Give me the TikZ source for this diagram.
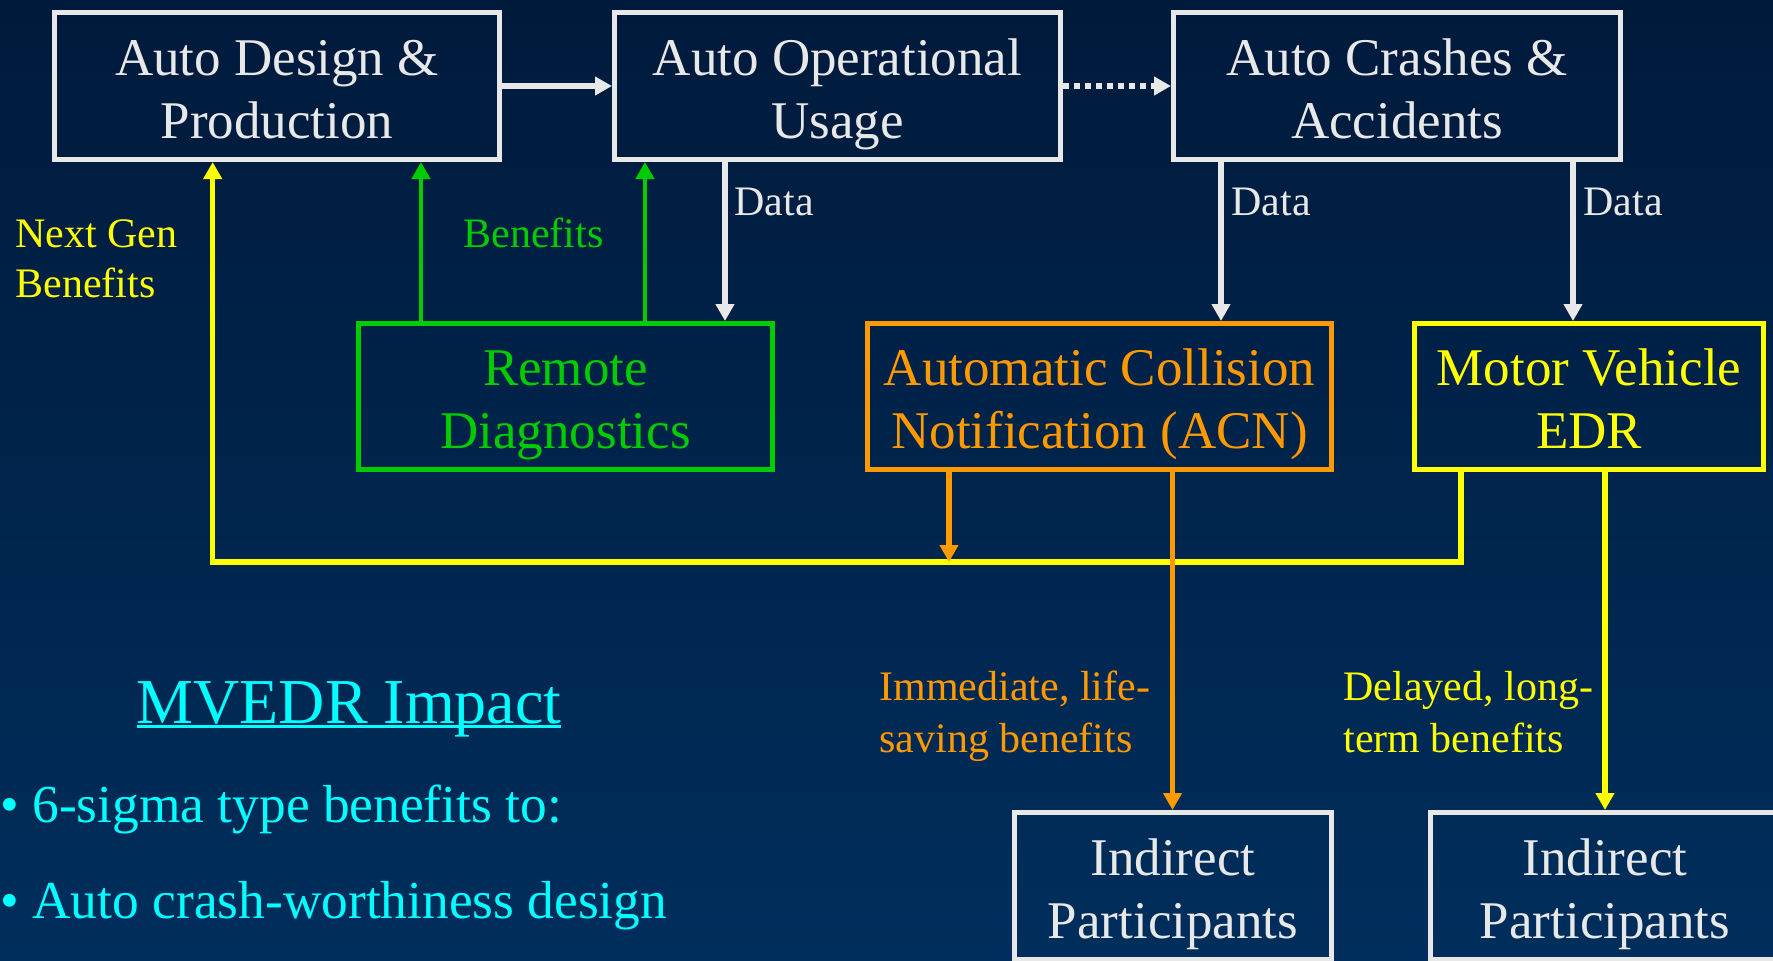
\documentclass[tikz,border=0pt]{standalone}
\usepackage{fontspec}
\setmainfont{Liberation Serif}
\usetikzlibrary{arrows.meta}

\definecolor{bgtop}{HTML}{001A3B}
\definecolor{bgbot}{HTML}{002E5C}
\definecolor{paper}{HTML}{E8E8E8}
\definecolor{grn}{HTML}{00CC00}
\definecolor{org}{HTML}{FF9900}
\definecolor{ylw}{HTML}{FFFF00}
\definecolor{cyn}{HTML}{00FFFF}

% two centred lines with a fixed cap-height strut, so every box sets its text alike
\newcommand\twoline[2]{\rule{0pt}{20.5pt}\smash{#1}\\\smash{#2}}
% two left-aligned lines whose top edge is the first baseline
\newcommand\lbltwo[2]{\smash{#1}\\\smash{#2}}
% underlined heading
\newcommand\ulinetext[1]{\setbox0\hbox{#1}\rlap{\rule[-2.6pt]{\wd0}{1.6pt}}\box0}

\begin{document}
\begin{tikzpicture}[x=0.5pt, y=-0.5pt,
  box/.style={draw, line width=2.5pt, minimum height=73.5pt, inner sep=0pt,
    align=center, font=\fontsize{26.5pt}{31.5pt}\selectfont},
  lbl/.style={inner sep=0pt, font=\fontsize{21pt}{25pt}\selectfont},
  arr/.style={line width=2.6pt, -{Triangle[length=8.5pt,width=9pt]}},
  garr/.style={line width=2.2pt, -{Triangle[length=8.5pt,width=9pt]}}]

% backdrop
\fill[top color=bgtop, bottom color=bgbot] (0,0) rectangle (1773,960);
\useasboundingbox (0,0) rectangle (1773,960);

% life-cycle boxes
\node[box, draw=paper, text=paper, minimum width=222.5pt] (design) at (277,86)
  {\twoline{Auto Design \&}{Production}};
\node[box, draw=paper, text=paper, minimum width=223pt] (usage) at (837.5,86)
  {\twoline{Auto Operational}{Usage}};
\node[box, draw=paper, text=paper, minimum width=223.5pt] (crash) at (1397,86)
  {\twoline{Auto Crashes \&}{Accidents}};

% data systems
\node[box, draw=grn, text=grn, minimum width=207pt, minimum height=73pt] (remote) at (565.5,396.5)
  {\twoline{Remote}{Diagnostics}};
\node[box, draw=org, text=org, minimum width=232pt, minimum height=73pt] (acn) at (1099.5,396.5)
  {\twoline{Automatic Collision}{Notification (ACN)}};
\node[box, draw=ylw, text=ylw, minimum width=174.5pt, minimum height=73pt] (edr) at (1589,396.5)
  {\twoline{Motor Vehicle}{EDR}};

% beneficiaries
\node[box, draw=paper, text=paper, minimum width=158.5pt] (partA) at (1173,886)
  {\twoline{Indirect}{Participants}};
\node[box, draw=paper, text=paper, minimum width=174.5pt] (partB) at (1605,886)
  {\twoline{Indirect}{Participants}};

% connector columns
\coordinate (xu) at (725,0);
\coordinate (xc1) at (1221,0);
\coordinate (xc2) at (1573,0);
\coordinate (xg1) at (421,0);
\coordinate (xg2) at (645,0);
\coordinate (xyr) at (1461,0);
\coordinate (xo1) at (949,0);
\coordinate (xo2) at (1172.5,0);
\coordinate (xy2) at (1605,0);
\coordinate (corner) at (212.7,562);

% flow along the top row
\draw[arr, paper] (design.east) -- (usage.west);
\draw[arr, paper, line width=3pt, dash pattern=on 3pt off 2.5pt] (usage.east) -- (crash.west);

% data feeds
\draw[arr, paper] (usage.south -| xu) -- (remote.north -| xu);
\draw[arr, paper] (crash.south -| xc1) -- (acn.north -| xc1);
\draw[arr, paper] (crash.south -| xc2) -- (edr.north -| xc2);

% benefits flowing back
\draw[garr, grn] (remote.north -| xg1) -- (design.south -| xg1);
\draw[garr, grn] (remote.north -| xg2) -- (usage.south -| xg2);
\draw[arr, ylw] (edr.south -| xyr) |- (corner) -- (design.south -| corner);
\draw[arr, org] (acn.south -| xo1) -- (xo1 |- corner);

% benefits to participants
\draw[arr, org] (acn.south -| xo2) -- (partA.north -| xo2);
\draw[arr, ylw] (edr.south -| xy2) -- (partB.north -| xy2);

% labels
\node[lbl, text=paper, anchor=base west] (data1) at (734,215) {Data};
\node[lbl, text=paper, anchor=base west] (data2) at (1231,215) {Data};
\node[lbl, text=paper, anchor=base west] (data3) at (1583,215) {Data};
\node[lbl, text=ylw, anchor=north west, align=left] (nextgen) at (15,247)
  {\lbltwo{Next Gen}{Benefits}};
\node[lbl, text=grn, anchor=base west] (benefits) at (463,247) {Benefits};
\node[lbl, text=org, anchor=north west, align=left, font=\fontsize{21pt}{26pt}\selectfont]
  (immediate) at (879,700) {\lbltwo{Immediate, life-}{saving benefits}};
\node[lbl, text=ylw, anchor=north west, align=left, font=\fontsize{21pt}{26pt}\selectfont]
  (delayed) at (1343,700) {\lbltwo{Delayed, long-}{term benefits}};

% summary
\node[text=cyn, inner sep=0pt, anchor=base, font=\fontsize{32pt}{38pt}\selectfont]
  (impact) at (349,723) {\ulinetext{MVEDR Impact}};
\node[text=cyn, inner sep=0pt, anchor=base west, font=\fontsize{26.7pt}{32pt}\selectfont]
  (bullet1) at (0,822) {• 6-sigma type benefits to:};
\node[text=cyn, inner sep=0pt, anchor=base west, font=\fontsize{26.7pt}{32pt}\selectfont]
  (bullet2) at (0,918) {• Auto crash-worthiness design};
\end{tikzpicture}
\end{document}
